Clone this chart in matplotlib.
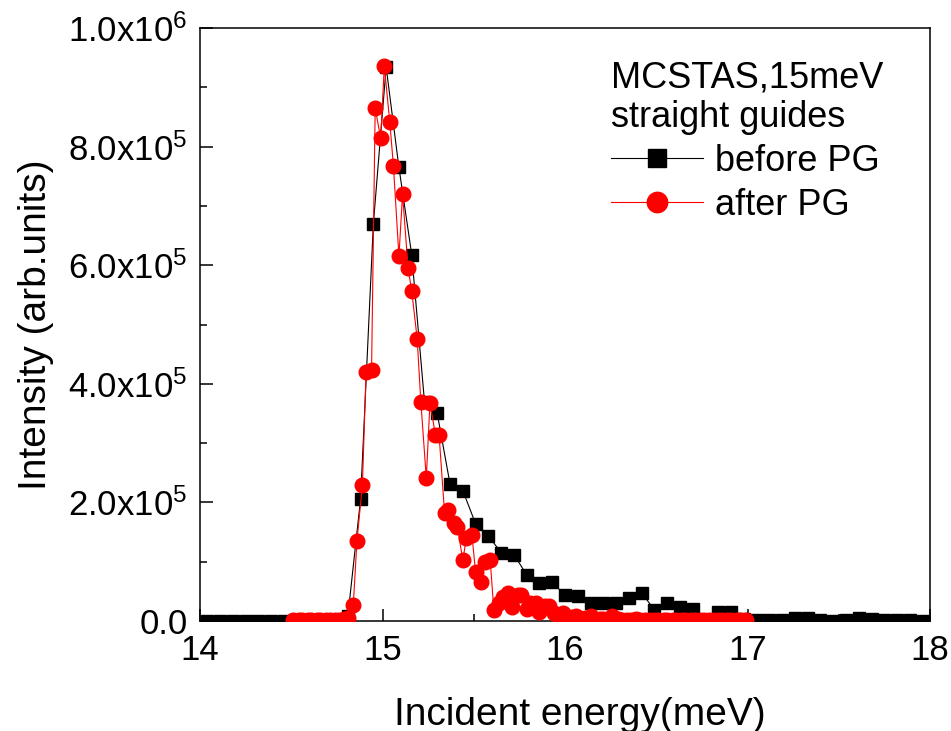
import matplotlib
matplotlib.use("Agg")
import matplotlib.pyplot as plt
from matplotlib.ticker import MultipleLocator

plt.rcParams['font.family'] = ['Liberation Sans', 'DejaVu Sans']
plt.rcParams['mathtext.default'] = 'regular'

# before PG (black squares)
before_e = [14.04, 14.11, 14.18, 14.25, 14.32, 14.39, 14.46, 14.53, 14.60, 14.67,
            14.74, 14.81, 14.88, 14.95, 15.02, 15.09, 15.16, 15.23, 15.30, 15.37,
            15.44, 15.51, 15.58, 15.65, 15.72, 15.79, 15.86, 15.93, 16.00, 16.07,
            16.14, 16.21, 16.28, 16.35, 16.42, 16.49, 16.56, 16.63, 16.70, 16.77,
            16.84, 16.91, 16.98, 17.05, 17.12, 17.19, 17.26, 17.33, 17.40, 17.47,
            17.54, 17.61, 17.68, 17.75, 17.82, 17.89, 17.96]
before_i = [0, 0, 0, 0, 0, 0, 0, 0, 0, 0,
            0, 8e3, 206e3, 670e3, 934e3, 765e3, 618e3, 370e3, 350e3, 231e3,
            220e3, 164e3, 144e3, 115e3, 112e3, 78e3, 64e3, 65e3, 44e3, 42e3,
            30e3, 30e3, 30e3, 39e3, 47e3, 19e3, 30e3, 24e3, 20e3, 2e3,
            15e3, 15e3, 3e3, 1e3, 1e3, 1e3, 5e3, 5e3, 1e3, 0,
            1e3, 5e3, 3e3, 1e3, 1e3, 1e3, 0]

# after PG (red circles)
after_e = [14.51, 14.54, 14.56, 14.59, 14.61, 14.64, 14.66, 14.69, 14.71, 14.74,
           14.76, 14.79, 14.81, 14.84, 14.86, 14.89, 14.91, 14.94, 14.96, 14.99,
           15.01, 15.04, 15.06, 15.09, 15.11, 15.14, 15.16, 15.19, 15.21, 15.24,
           15.26, 15.29, 15.31, 15.34, 15.36, 15.39, 15.41, 15.44, 15.46, 15.49,
           15.51, 15.54, 15.56, 15.59, 15.61, 15.64, 15.66, 15.69, 15.71, 15.74,
           15.76, 15.79, 15.81, 15.84, 15.86, 15.89, 15.91, 15.94, 15.96, 15.99,
           16.01, 16.04, 16.06, 16.09, 16.11, 16.14, 16.16, 16.19, 16.21, 16.24,
           16.26, 16.29, 16.31, 16.34, 16.36, 16.39, 16.41, 16.44, 16.46, 16.49,
           16.51, 16.54, 16.56, 16.59, 16.61, 16.64, 16.66, 16.69, 16.71, 16.74,
           16.76, 16.79, 16.81, 16.84, 16.86, 16.89, 16.91, 16.94, 16.96, 16.99]
after_i = [2e3, 2e3, 2e3, 2e3, 2e3, 2e3, 2e3, 2e3, 2e3, 2e3,
           2e3, 3e3, 5e3, 27e3, 135e3, 230e3, 420e3, 423e3, 865e3, 814e3,
           936e3, 841e3, 767e3, 615e3, 720e3, 595e3, 557e3, 476e3, 370e3, 241e3,
           368e3, 314e3, 314e3, 182e3, 187e3, 165e3, 159e3, 103e3, 140e3, 145e3,
           83e3, 66e3, 100e3, 103e3, 19e3, 30e3, 40e3, 47e3, 24e3, 44e3,
           44e3, 20e3, 30e3, 30e3, 15e3, 25e3, 25e3, 13e3, 10e3, 14e3,
           5e3, 7e3, 8e3, 4e3, 5e3, 8e3, 4e3, 3e3, 3e3, 3e3,
           8e3, 3e3, 2e3, 2e3, 2e3, 3e3, 2e3, 2e3, 2e3, 2e3,
           2e3, 2e3, 2e3, 2e3, 2e3, 2e3, 2e3, 2e3, 2e3, 2e3,
           2e3, 2e3, 2e3, 2e3, 2e3, 2e3, 2e3, 2e3, 2e3, 2e3]

xticks = [14, 15, 16, 17, 18]
yticks = [0, 2e5, 4e5, 6e5, 8e5, 1e6]
ytick_labels = ['0.0', '2.0x10$^{5}$', '4.0x10$^{5}$', '6.0x10$^{5}$', '8.0x10$^{5}$', '1.0x10$^{6}$']

fig = plt.figure(figsize=(9.51, 7.31), dpi=100)
ax = fig.add_axes([200/951, 1-621/731, 730/951, 593/731])

ax.plot(before_e, before_i, color='black', lw=0.8, marker='s', ms=8.8,
        mec='black', mfc='black', label='before PG', zorder=3)
ax.plot(after_e, after_i, color='red', lw=0.8, marker='o', ms=10.5,
        mec='red', mfc='red', label='after PG', zorder=4)

ax.set_xlim(14, 18)
ax.set_ylim(0, 1e6)
ax.set_xticks(xticks)
ax.set_xticklabels([str(t) for t in xticks])
ax.set_yticks(yticks)
ax.set_yticklabels(ytick_labels)
ax.xaxis.set_minor_locator(MultipleLocator(0.5))
ax.yaxis.set_minor_locator(MultipleLocator(1e5))
ax.tick_params(which='both', direction='in', top=False, right=False, width=1.1)
ax.tick_params(which='major', length=9, labelsize=25, pad=9)
ax.tick_params(which='minor', length=5)
for s in ax.spines.values():
    s.set_linewidth(1.1)

ax.set_xlabel('Incident energy(meV)', fontsize=28)
ax.xaxis.set_label_coords(0.52, -0.128)
ax.set_ylabel('Intensity (arb.units)', fontsize=28)
ax.yaxis.set_label_coords(-0.2, 0.5)

leg = ax.legend(title='MCSTAS,15meV\nstraight guides', alignment='left',
                loc='upper left', bbox_to_anchor=(604/951, 1-53/731),
                bbox_transform=fig.transFigure, frameon=False,
                fontsize=26, title_fontsize=26, handlelength=2.55,
                handletextpad=0.33, labelspacing=0.25, borderpad=0.2,
                borderaxespad=0, markerscale=1.4)
leg.get_title().set_linespacing(1.17)

fig.savefig('out.png', dpi=100)
